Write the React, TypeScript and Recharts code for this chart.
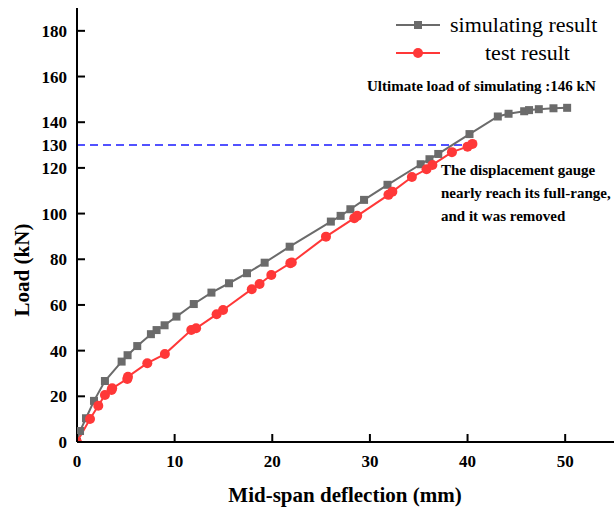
import { LineChart, Line, XAxis, YAxis, ReferenceLine } from 'recharts'

const simDeflection = [0, 0.31, 0.92, 1.74, 2.86, 4.57, 5.18, 6.17, 7.57, 8.15, 8.97, 10.19, 11.96, 13.77, 15.57, 17.41, 19.22, 21.78, 26.0, 27.0, 28.0, 29.4, 31.8, 35.2, 36.1, 37.0, 40.2, 43.1, 44.2, 45.8, 46.3, 47.3, 48.8, 50.2]
const simLoad = [0, 4.8, 10.4, 18, 26.7, 35.2, 38, 42, 47.2, 49, 51.1, 54.9, 60.4, 65.4, 69.5, 73.9, 78.5, 85.5, 96.5, 99, 101.9, 106, 112.6, 121.6, 123.8, 126.1, 134.8, 142.5, 143.7, 144.8, 145.3, 145.7, 146.1, 146.3]

const testDeflection = [0, 1.33, 2.18, 2.86, 3.54, 3.6, 5.15, 5.22, 7.2, 9.0, 11.7, 12.2, 14.3, 14.96, 17.9, 18.7, 19.9, 21.85, 22.0, 25.5, 28.4, 28.7, 31.9, 32.3, 34.3, 35.8, 36.4, 38.4, 40.0, 40.5]
const testLoad = [0, 10.1, 15.9, 20.6, 22.8, 23.5, 27.6, 28.6, 34.5, 38.5, 49, 49.8, 55.9, 57.8, 66.9, 69.2, 73.1, 78.3, 78.6, 89.9, 98, 99, 108.2, 109.6, 116, 119.4, 121.3, 126.9, 129.3, 130.5]

const xTicks = [0, 10, 20, 30, 40, 50]
const yTicks = [0, 20, 40, 60, 80, 100, 120, 130, 140, 160, 180]

const simData = simDeflection.map((x, i) => ({ x, y: simLoad[i] }))
const testData = testDeflection.map((x, i) => ({ x, y: testLoad[i] }))

const FONT = '"Liberation Serif", "Times New Roman", serif'
const GRAY = '#6b6b6b'
const RED = '#ff3838'
const serif = { fontFamily: FONT }
const serifBold = { fontFamily: FONT, fontWeight: 'bold' as const }

const SquareDot = (p: any) => (
  <rect key={p.key ?? `${p.cx}-${p.cy}`} x={p.cx - 4} y={p.cy - 4} width={8} height={8} fill={GRAY} />
)
const CircleDot = (p: any) => (
  <circle key={p.key ?? `${p.cx}-${p.cy}`} cx={p.cx} cy={p.cy} r={5} fill={RED} />
)

const YTick = (p: any) => {
  const v = p.payload.value
  return (
    <g>
      <text x={p.x} y={p.y} dy={6} textAnchor="end" style={{ ...serifBold, fontSize: 17 }} fill="#000">
        {v}
      </text>
      {v !== 130 && <line x1={p.x + 10} x2={p.x + 18} y1={p.y} y2={p.y} stroke="#000" strokeWidth={2} />}
    </g>
  )
}

const XTick = (p: any) => (
  <g>
    <text x={p.x} y={p.y} dy={17} textAnchor="middle" style={{ ...serifBold, fontSize: 17 }} fill="#000">
      {p.payload.value}
    </text>
    <line x1={p.x} x2={p.x} y1={p.y - 8} y2={p.y - 16} stroke="#000" strokeWidth={2} />
  </g>
)

export default function App() {
  return (
    <div style={{ position: 'absolute', left: 0, top: 0, width: 614, height: 510, ...serif }}>
      <LineChart width={614} height={510} margin={{ top: 8, right: 0, left: 0, bottom: 0 }}>
        <XAxis
          type="number"
          dataKey="x"
          domain={[0, 55]}
          ticks={xTicks}
          height={68}
          tickSize={0}
          tickMargin={8}
          tickLine={false}
          axisLine={{ stroke: '#000', strokeWidth: 2 }}
          tick={<XTick />}
          allowDataOverflow
          label={{
            content: () => (
              <text x={345} y={502} textAnchor="middle" style={{ ...serifBold, fontSize: 21 }} fill="#000">
                Mid-span deflection (mm)
              </text>
            ),
          }}
        />
        <XAxis
          xAxisId="top"
          orientation="top"
          type="number"
          dataKey="x"
          domain={[0, 55]}
          height={0}
          tick={false}
          tickLine={false}
          axisLine={{ stroke: '#000', strokeWidth: 2 }}
        />
        <YAxis
          type="number"
          dataKey="y"
          domain={[0, 190]}
          ticks={yTicks}
          width={77}
          tickSize={0}
          tickMargin={10}
          tickLine={false}
          interval={0}
          axisLine={{ stroke: '#000', strokeWidth: 2 }}
          tick={<YTick />}
          allowDataOverflow
          label={{
            content: () => (
              <text transform="translate(29,270) rotate(-90)" textAnchor="middle" style={{ ...serifBold, fontSize: 21 }} fill="#000">
                Load (kN)
              </text>
            ),
          }}
        />
        <ReferenceLine
          segment={[{ x: 0, y: 130 }, { x: 40.3, y: 130 }]}
          stroke="#1a1aff"
          strokeWidth={1.5}
          strokeDasharray="8 5"
        />
        <Line
          data={simData}
          dataKey="y"
          stroke={GRAY}
          strokeWidth={2}
          dot={SquareDot}
          isAnimationActive={false}
        />
        <Line
          data={testData}
          dataKey="y"
          stroke={RED}
          strokeWidth={2}
          dot={CircleDot}
          isAnimationActive={false}
        />
      </LineChart>
      <svg width={230} height={60} style={{ position: 'absolute', left: 388, top: 10 }}>
        <line x1={8} x2={52} y1={15} y2={15} stroke={GRAY} strokeWidth={2} />
        <rect x={26} y={11} width={8} height={8} fill={GRAY} />
        <text x={62} y={22} style={{ ...serif, fontSize: 22 }} fill="#000">simulating result</text>
        <line x1={8} x2={52} y1={43} y2={43} stroke={RED} strokeWidth={2} />
        <circle cx={30} cy={43} r={5} fill={RED} />
        <text x={97} y={50} style={{ ...serif, fontSize: 22 }} fill="#000">test result</text>
      </svg>
      <div
        style={{
          position: 'absolute',
          left: 367,
          top: 78,
          ...serifBold,
          fontSize: 15,
          whiteSpace: 'nowrap',
          color: '#000',
        }}
      >
        Ultimate load of simulating :146 kN
      </div>
      <div
        style={{
          position: 'absolute',
          left: 441,
          top: 159,
          ...serifBold,
          fontSize: 15,
          lineHeight: '23px',
          whiteSpace: 'nowrap',
          color: '#000',
        }}
      >
        The displacement gauge
        <br />
        nearly reach its full-range,
        <br />
        and it was removed
      </div>
    </div>
  )
}
